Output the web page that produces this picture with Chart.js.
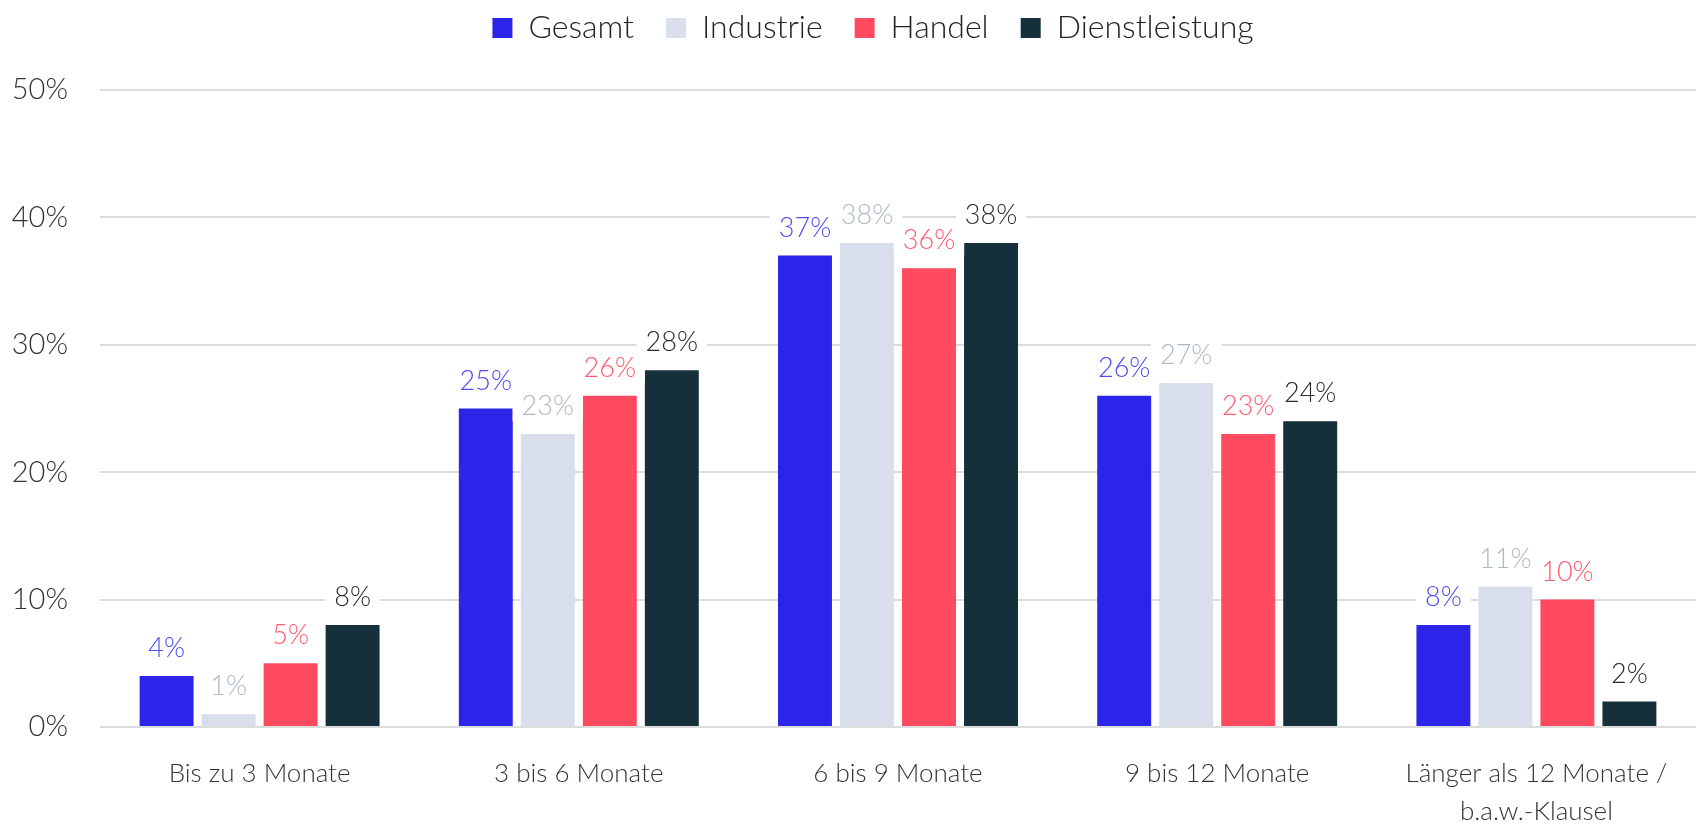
<!DOCTYPE html>
<html>
<head>
<meta charset="utf-8">
<script src="https://cdn.jsdelivr.net/npm/chart.js@4"></script>
<style>
	html, body { margin: 0; padding: 0; background: #fff; }
	#wrap { width: 1696px; height: 825px; position: relative; }
</style>
</head>
<body>
<div id="wrap"><canvas id="chart"></canvas></div>
<script>
const categories = [
	'Bis zu 3 Monate',
	'3 bis 6 Monate',
	'6 bis 9 Monate',
	'9 bis 12 Monate',
	['Länger als 12 Monate /', 'b.a.w.-Klausel']
];
const gesamt = [4, 25, 37, 26, 8];
const industrie = [1, 23, 38, 27, 11];
const handel = [5, 26, 36, 23, 10];
const dienstleistung = [8, 28, 38, 24, 2];

const FONT = 'Lato';

// value labels above bars, on a white box that hides the grid
const valueLabels = {
	id: 'valueLabels',
	afterDatasetsDraw(chart) {
		const ctx = chart.ctx;
		ctx.save();
		ctx.font = '300 27px ' + FONT;
		ctx.textAlign = 'center';
		ctx.textBaseline = 'alphabetic';
		const items = [];
		chart.data.datasets.forEach((ds, i) => {
			const meta = chart.getDatasetMeta(i);
			meta.data.forEach((bar, j) => {
				items.push({ x: bar.x, y: bar.y - 19, text: ds.data[j] + '%', color: ds.labelColor });
			});
		});
		ctx.fillStyle = '#fff';
		items.forEach(it => {
			const w = ctx.measureText(it.text).width;
			ctx.fillRect(it.x - w / 2 - 9, it.y - 26, w + 18, 32);
		});
		items.forEach(it => {
			ctx.fillStyle = it.color;
			ctx.fillText(it.text, it.x, it.y);
		});
		ctx.restore();
	}
};

// more room under the legend, and nudge it a bit to the right
const legendSpace = {
	id: 'legendSpace',
	beforeInit(chart) {
		const fit = chart.legend.fit;
		chart.legend.fit = function () {
			fit.call(this);
			this.height += 36;
		};
	},
	afterLayout(chart) {
		chart.legend.left += 25;
		chart.legend.right += 25;
	}
};

const ctx = document.getElementById('chart').getContext('2d');
const myChart = new Chart(ctx, {
	type: 'bar',
	data: {
		labels: categories,
		datasets: [
			{ label: 'Gesamt', data: gesamt, backgroundColor: '#2c24e8', labelColor: '#4d4cf0' },
			{ label: 'Industrie', data: industrie, backgroundColor: '#d9deed', labelColor: '#aeb8c8' },
			{ label: 'Handel', data: handel, backgroundColor: '#ff4a5f', labelColor: '#ff5a6e' },
			{ label: 'Dienstleistung', data: dienstleistung, backgroundColor: '#15303a', labelColor: '#2a2a2a' }
		]
	},
	options: {
		responsive: true,
		maintainAspectRatio: false,
		animation: false,
		categoryPercentage: 0.777,
		barPercentage: 0.87,
		layout: { padding: { top: -20 } },
		plugins: {
			legend: {
				position: 'top',
				labels: {
					font: { family: FONT, size: 32, weight: '300' },
					color: '#222',
					boxWidth: 20,
					boxHeight: 20,
					padding: 32
				}
			},
			tooltip: { enabled: false }
		},
		scales: {
			x: {
				grid: { display: false, drawTicks: false },
				border: { display: false },
				ticks: {
					font: { family: FONT, size: 26, weight: '300', lineHeight: 1.45 },
					color: '#333',
					padding: 28,
					maxRotation: 0
				},
				afterFit(axis) { axis.height = 98; }
			},
			y: {
				min: 0,
				max: 50,
				grid: { color: '#dcdcdc', lineWidth: 2, drawTicks: false },
				border: { display: false },
				ticks: {
					stepSize: 10,
					font: { family: FONT, size: 29, weight: '300' },
					color: '#333',
					padding: 32,
					callback: v => v + '%'
				},
				afterFit(axis) { axis.width = 100; }
			}
		}
	},
	plugins: [valueLabels, legendSpace]
});
</script>
</body>
</html>
